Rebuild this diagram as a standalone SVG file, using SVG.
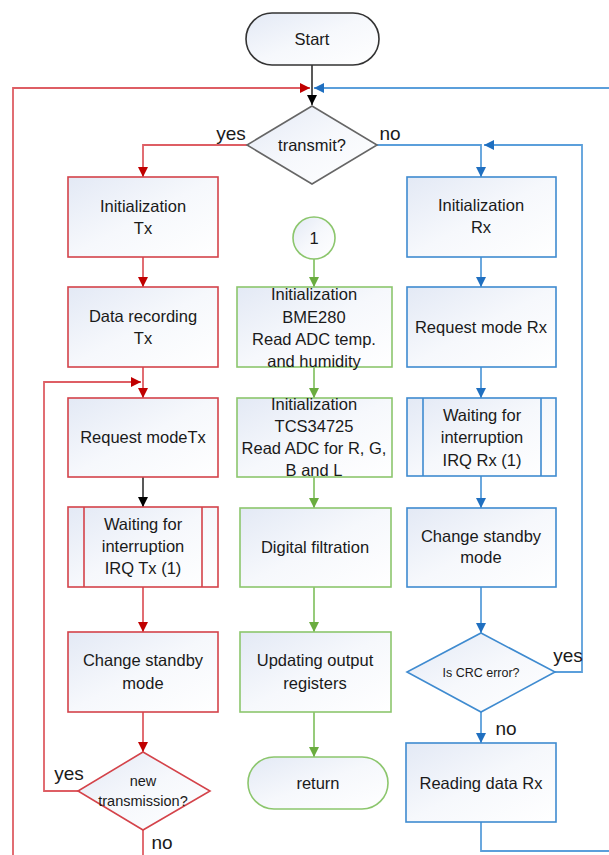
<svg xmlns="http://www.w3.org/2000/svg" width="609" height="855" viewBox="0 0 609 855">
  <style>
    text { font-family: "Liberation Sans", Arial, sans-serif; fill: #1a1a1a; text-anchor: middle; dominant-baseline: central; }
    .t { font-size: 16.5px; }
    .s { font-size: 12.5px; }
    .m { font-size: 14.5px; }
    .lbl { font-size: 19px; }
    .box { fill: url(#shade); stroke-width: 1.6; }
    .red { stroke: #d4434a; }
    .blue { stroke: #3f8bd0; }
    .green { stroke: #8cc66d; }
    .dark { stroke: #333; }
    .gray { stroke: #666; }
    .wr { fill: none; stroke: #de5e64; stroke-width: 1.8; }
    .wb { fill: none; stroke: #5b9fdb; stroke-width: 1.8; }
    .wg { fill: none; stroke: #8cc66d; stroke-width: 1.8; }
    .wk { fill: none; stroke: #222; stroke-width: 1.5; }
  </style>
  <defs>
    <linearGradient id="shade" x1="0" y1="0" x2="1" y2="1">
      <stop offset="0" stop-color="#e3e9f5"/>
      <stop offset="0.5" stop-color="#f6f8fc"/>
      <stop offset="1" stop-color="#ffffff"/>
    </linearGradient>
    <marker id="ar" markerUnits="userSpaceOnUse" markerWidth="12" markerHeight="12" viewBox="0 0 12 12" refX="11" refY="6" orient="auto">
      <path d="M1,1 L11,6 L1,11 Z" fill="#c00000"/>
    </marker>
    <marker id="ab" markerUnits="userSpaceOnUse" markerWidth="12" markerHeight="12" viewBox="0 0 12 12" refX="11" refY="6" orient="auto">
      <path d="M1,1 L11,6 L1,11 Z" fill="#1f6fc0"/>
    </marker>
    <marker id="ag" markerUnits="userSpaceOnUse" markerWidth="12" markerHeight="12" viewBox="0 0 12 12" refX="11" refY="6" orient="auto">
      <path d="M1,1 L11,6 L1,11 Z" fill="#6aac3f"/>
    </marker>
    <marker id="ak" markerUnits="userSpaceOnUse" markerWidth="12" markerHeight="12" viewBox="0 0 12 12" refX="11" refY="6" orient="auto">
      <path d="M1,1 L11,6 L1,11 Z" fill="#000"/>
    </marker>
  </defs>

  <!-- connectors -->
  <g id="connectors">
    <!-- main entry -->
    <path class="wk" d="M312,65 V105" marker-end="url(#ak)"/>
    <!-- red return loop from the bottom -->
    <path class="wr" d="M13,855 V88 H310" marker-end="url(#ar)"/>
    <!-- blue return loop from the right -->
    <path class="wb" d="M609,88 H314" marker-end="url(#ab)"/>
    <!-- transmit branches -->
    <path class="wr" d="M247,145 H143 V177" marker-end="url(#ar)"/>
    <path class="wb" d="M377,145 H481 V177" marker-end="url(#ab)"/>
    <!-- Tx column -->
    <path class="wr" d="M143,257 V287" marker-end="url(#ar)"/>
    <path class="wr" d="M143,367 V398" marker-end="url(#ar)"/>
    <path class="wr" d="M78,791 H44 V382 H141" marker-end="url(#ar)"/>
    <path class="wk" d="M143,477 V507" marker-end="url(#ak)"/>
    <path class="wr" d="M143,587 V632" marker-end="url(#ar)"/>
    <path class="wr" d="M143,712 V752" marker-end="url(#ar)"/>
    <path class="wr" d="M143,830 V855"/>
    <!-- sensor column -->
    <path class="wg" d="M314,259 V287" marker-end="url(#ag)"/>
    <path class="wg" d="M314,367 V398" marker-end="url(#ag)"/>
    <path class="wg" d="M314,477 V508" marker-end="url(#ag)"/>
    <path class="wg" d="M314,587 V632" marker-end="url(#ag)"/>
    <path class="wg" d="M314,712 V757" marker-end="url(#ag)"/>
    <!-- Rx column -->
    <path class="wb" d="M481,257 V287" marker-end="url(#ab)"/>
    <path class="wb" d="M481,367 V398" marker-end="url(#ab)"/>
    <path class="wb" d="M481,476 V508" marker-end="url(#ab)"/>
    <path class="wb" d="M481,587 V633" marker-end="url(#ab)"/>
    <path class="wb" d="M555,672 H582 V145 H484" marker-end="url(#ab)"/>
    <path class="wb" d="M481,712 V743" marker-end="url(#ab)"/>
    <path class="wb" d="M481,822 V851 H609"/>
  </g>

  <!-- labels on branches -->
  <g id="branch-labels">
    <text class="lbl" x="231" y="133">yes</text>
    <text class="lbl" x="390" y="133">no</text>
    <text class="lbl" x="69" y="773">yes</text>
    <text class="lbl" x="162" y="842">no</text>
    <text class="lbl" x="568" y="655">yes</text>
    <text class="lbl" x="506" y="728">no</text>
  </g>

  <g id="start">
    <rect class="box dark" x="246" y="13" width="133" height="52" rx="26"/>
    <text class="t" x="312" y="39">Start</text>
  </g>

  <g id="transmit">
    <path class="box gray" d="M312,106 L377,145 L312,184 L247,145 Z"/>
    <text class="t" x="312" y="145">transmit?</text>
  </g>

  <!-- Tx column -->
  <g id="init-tx">
    <rect class="box red" x="68" y="177" width="150" height="80"/>
    <text class="t" x="143" y="206">Initialization</text>
    <text class="t" x="143" y="228">Tx</text>
  </g>
  <g id="record-tx">
    <rect class="box red" x="68" y="287" width="150" height="80"/>
    <text class="t" x="143" y="316">Data recording</text>
    <text class="t" x="143" y="338">Tx</text>
  </g>
  <g id="request-tx">
    <rect class="box red" x="68" y="398" width="150" height="79"/>
    <text class="t" x="143" y="437">Request modeTx</text>
  </g>
  <g id="wait-tx">
    <rect class="box red" x="68" y="507" width="150" height="80"/>
    <path class="red" fill="none" stroke-width="1.6" d="M84,507 V587 M202,507 V587"/>
    <text class="t" x="143" y="524">Waiting for</text>
    <text class="t" x="143" y="546">interruption</text>
    <text class="t" x="143" y="568">IRQ Tx (1)</text>
  </g>
  <g id="standby-tx">
    <rect class="box red" x="68" y="632" width="150" height="80"/>
    <text class="t" x="143" y="660">Change standby</text>
    <text class="t" x="143" y="683">mode</text>
  </g>
  <g id="new-transmission">
    <path class="box red" d="M143,752 L210,791 L143,830 L78,791 Z"/>
    <text class="m" x="143" y="781">new</text>
    <text class="m" x="143" y="801">transmission?</text>
  </g>

  <!-- sensor column -->
  <g id="connector-1">
    <circle class="box green" cx="314" cy="238" r="21"/>
    <text class="t" x="314" y="238">1</text>
  </g>
  <g id="bme280">
    <rect class="box green" x="237" y="287" width="155" height="80"/>
    <text class="t" x="314" y="294">Initialization</text>
    <text class="t" x="314" y="317">BME280</text>
    <text class="t" x="314" y="339">Read ADC temp.</text>
    <text class="t" x="314" y="361">and humidity</text>
  </g>
  <g id="tcs34725">
    <rect class="box green" x="237" y="398" width="155" height="79"/>
    <text class="t" x="314" y="404">Initialization</text>
    <text class="t" x="314" y="426">TCS34725</text>
    <text class="t" x="314" y="448">Read ADC for R, G,</text>
    <text class="t" x="314" y="470">B and L</text>
  </g>
  <g id="filtration">
    <rect class="box green" x="240" y="508" width="151" height="79"/>
    <text class="t" x="315" y="547">Digital filtration</text>
  </g>
  <g id="update-registers">
    <rect class="box green" x="240" y="632" width="151" height="80"/>
    <text class="t" x="315" y="660">Updating output</text>
    <text class="t" x="315" y="683">registers</text>
  </g>
  <g id="return">
    <rect class="box green" x="248" y="757" width="140" height="52" rx="26"/>
    <text class="t" x="318" y="783">return</text>
  </g>

  <!-- Rx column -->
  <g id="init-rx">
    <rect class="box blue" x="407" y="177" width="149" height="80"/>
    <text class="t" x="481" y="205">Initialization</text>
    <text class="t" x="481" y="227">Rx</text>
  </g>
  <g id="request-rx">
    <rect class="box blue" x="407" y="287" width="149" height="80"/>
    <text class="t" x="481" y="327">Request mode Rx</text>
  </g>
  <g id="wait-rx">
    <rect class="box blue" x="407" y="398" width="149" height="78"/>
    <path class="blue" fill="none" stroke-width="1.6" d="M423,398 V476 M541,398 V476"/>
    <text class="t" x="482" y="415">Waiting for</text>
    <text class="t" x="482" y="437">interruption</text>
    <text class="t" x="482" y="460">IRQ Rx (1)</text>
  </g>
  <g id="standby-rx">
    <rect class="box blue" x="407" y="508" width="149" height="79"/>
    <text class="t" x="481" y="536">Change standby</text>
    <text class="t" x="481" y="557">mode</text>
  </g>
  <g id="crc-check">
    <path class="box blue" d="M481,633 L555,672 L481,712 L407,672 Z"/>
    <text class="s" x="481" y="673">Is CRC error?</text>
  </g>
  <g id="read-rx">
    <rect class="box blue" x="406" y="743" width="150" height="79"/>
    <text class="t" x="481" y="783">Reading data Rx</text>
  </g>
</svg>
